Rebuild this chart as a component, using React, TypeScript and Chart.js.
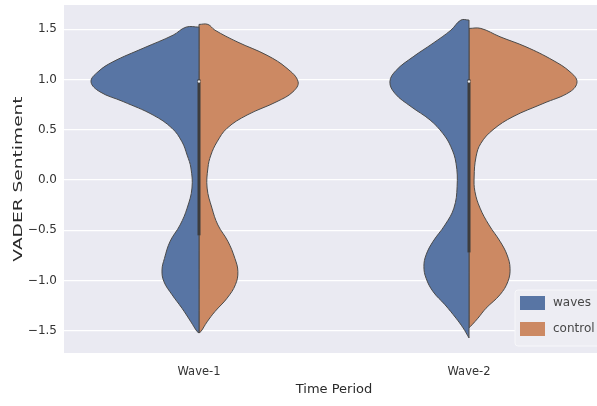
import React, { useEffect, useRef } from "react";
import { Chart, registerables } from "chart.js";

Chart.register(...registerables);

// ---------- data ----------
const categories = ["Wave-1", "Wave-2"];
const hues = ["waves", "control"];
const yTicks = [-1.5, -1.0, -0.5, 0.0, 0.5, 1.0, 1.5];
const yTitle = "VADER Sentiment";
const xTitle = "Time Period";

// Density outlines: sentiment level and half-width (in category units), top to bottom
const w1WavesY = [1.52, 1.44, 1.31, 1.175, 1.076, 0.977, 0.877, 0.78, 0.646, 0.515, 0.38, 0.248, 0.12, -0.08, -0.28, -0.447, -0.61, -0.78, -0.894, -1.01, -1.14, -1.275, -1.41, -1.507, -1.52];
const w1WavesW = [0.048, 0.096, 0.207, 0.319, 0.374, 0.4, 0.367, 0.281, 0.17, 0.1, 0.063, 0.044, 0.03, 0.026, 0.044, 0.07, 0.107, 0.128, 0.137, 0.13, 0.1, 0.063, 0.03, 0.007, 0];

const w1ControlY = [1.547, 1.49, 1.374, 1.24, 1.11, 0.977, 0.877, 0.78, 0.646, 0.515, 0.38, 0.248, 0.12, -0.08, -0.28, -0.447, -0.61, -0.78, -0.91, -1.04, -1.175, -1.308, -1.41, -1.507, -1.52];
const w1ControlW = [0.033, 0.059, 0.141, 0.252, 0.326, 0.367, 0.348, 0.289, 0.178, 0.104, 0.067, 0.044, 0.033, 0.03, 0.048, 0.07, 0.107, 0.133, 0.144, 0.135, 0.104, 0.059, 0.03, 0.007, 0];

const w2WavesY = [1.59, 1.49, 1.36, 1.225, 1.09, 0.977, 0.86, 0.73, 0.596, 0.46, 0.33, 0.166, -0.067, -0.28, -0.447, -0.61, -0.745, -0.86, -0.976, -1.11, -1.24, -1.374, -1.47, -1.57];
const w2WavesW = [0.03, 0.067, 0.133, 0.207, 0.27, 0.293, 0.274, 0.215, 0.144, 0.096, 0.067, 0.048, 0.044, 0.056, 0.089, 0.133, 0.159, 0.167, 0.159, 0.133, 0.089, 0.048, 0.022, 0];

const w2ControlY = [1.507, 1.424, 1.324, 1.19, 1.076, 0.977, 0.877, 0.76, 0.63, 0.5, 0.365, 0.23, 0.03, -0.116, -0.28, -0.447, -0.61, -0.745, -0.877, -1.01, -1.14, -1.275, -1.374, -1.44, -1.47];
const w2ControlW = [0.044, 0.115, 0.211, 0.311, 0.374, 0.4, 0.374, 0.274, 0.163, 0.089, 0.044, 0.026, 0.019, 0.022, 0.041, 0.074, 0.115, 0.141, 0.152, 0.144, 0.115, 0.063, 0.033, 0.011, 0];

// inner box statistics per category
const q1 = [-0.55, -0.72];
const q3 = [1.0, 1.0];
const medians = [0.98, 0.98];

// ---------- styles ----------
const FONT = "'DejaVu Sans', 'Liberation Sans', sans-serif";
const hueColors = ["#5875a4", "#cc8963"];
const outline = "#4a4a4a";
const plotBg = "#eaeaf2";
const textColor = "#333333";

type Pt = { x: number; y: number };

function half(center: number, ys: number[], ws: number[], side: number): Pt[] {
  const pts: Pt[] = [{ x: center, y: ys[0] }];
  ys.forEach((y, k) => pts.push({ x: center + side * ws[k], y }));
  pts.push({ x: center, y: ys[ys.length - 1] });
  pts.push({ x: center, y: ys[0] });
  return pts;
}

const violinHalves = [
  { cat: 0, hue: 0, ys: w1WavesY, ws: w1WavesW },
  { cat: 0, hue: 1, ys: w1ControlY, ws: w1ControlW },
  { cat: 1, hue: 0, ys: w2WavesY, ws: w2WavesW },
  { cat: 1, hue: 1, ys: w2ControlY, ws: w2ControlW },
];

const decor = {
  id: "decor",
  beforeDraw(chart: any) {
    const { ctx, chartArea: a } = chart;
    ctx.save();
    ctx.fillStyle = plotBg;
    ctx.fillRect(a.left, a.top, a.right - a.left, a.bottom - a.top);
    ctx.restore();
  },
  afterDraw(chart: any) {
    const { ctx, chartArea: a } = chart;
    // legend
    ctx.save();
    const lx = a.right - 89;
    const ly = a.bottom - 63;
    const lw = 85;
    const lh = 56;
    ctx.beginPath();
    ctx.roundRect(lx, ly, lw, lh, 3);
    ctx.fillStyle = "#ededf3";
    ctx.fill();
    ctx.strokeStyle = "#f7f7fa";
    ctx.lineWidth = 1;
    ctx.stroke();
    hues.forEach((h, k) => {
      const cy = ly + 13 + k * 26;
      ctx.fillStyle = hueColors[k];
      ctx.fillRect(lx + 5, cy - 7, 25, 14);
      ctx.fillStyle = "#474747";
      ctx.font = `12px ${FONT}`;
      ctx.textAlign = "left";
      ctx.textBaseline = "middle";
      ctx.fillText(h, lx + 38, cy);
    });
    ctx.restore();
    // y title (stretched along its direction like the source)
    ctx.save();
    ctx.translate(19, (a.top + a.bottom) / 2);
    ctx.rotate(-Math.PI / 2);
    ctx.scale(1.55, 1);
    ctx.fillStyle = "#2a2a2a";
    ctx.font = `12px ${FONT}`;
    ctx.textAlign = "center";
    ctx.textBaseline = "middle";
    ctx.fillText(yTitle, 0, 0);
    ctx.restore();
  },
};

export default function App() {
  const ref = useRef<HTMLCanvasElement | null>(null);

  useEffect(() => {
    if (!ref.current) return;
    const datasets: any[] = [];

    // inner box (drawn on top: lowest indices)
    categories.forEach((_, i) => {
      datasets.push({
        type: "scatter",
        data: [{ x: i, y: medians[i] }],
        pointRadius: 1.2,
        pointBackgroundColor: "#e8e8e8",
        pointBorderWidth: 0,
        showLine: false,
      });
      datasets.push({
        type: "line",
        data: [
          { x: i, y: q1[i] },
          { x: i, y: q3[i] },
        ],
        borderColor: "#3c3c3c",
        borderWidth: 3,
        pointRadius: 0,
        fill: false,
        tension: 0,
      });
    });

    violinHalves.forEach((v) => {
      datasets.push({
        type: "line",
        label: hues[v.hue],
        data: half(v.cat, v.ys, v.ws, v.hue === 0 ? -1 : 1),
        borderColor: outline,
        borderWidth: 1,
        backgroundColor: hueColors[v.hue],
        pointRadius: 0,
        fill: "shape",
        tension: 0.4,
      });
    });

    const chart = new Chart(ref.current, {
      type: "line",
      data: { datasets },
      options: {
        animation: false,
        responsive: true,
        maintainAspectRatio: false,
        layout: { padding: { top: 5, right: 8, left: 0, bottom: 0 } },
        plugins: { legend: { display: false }, tooltip: { enabled: false } },
        scales: {
          x: {
            type: "linear",
            min: -0.5,
            max: 1.5,
            grid: { display: false },
            border: { display: false },
            afterBuildTicks: (s: any) => {
              s.ticks = categories.map((_, i) => ({ value: i }));
            },
            ticks: {
              callback: (v: any) => categories[v as number] ?? "",
              font: { family: FONT, size: 11.5 },
              color: textColor,
              padding: 4,
              maxRotation: 0,
              autoSkip: false,
            },
            title: {
              display: true,
              text: xTitle,
              font: { family: FONT, size: 13 },
              color: "#2a2a2a",
              padding: { top: 0, bottom: 9 },
            },
            afterFit: (s: any) => {
              s.height = 53;
              s.paddingLeft = 0;
              s.paddingRight = 0;
            },
          },
          y: {
            type: "linear",
            min: -1.72,
            max: 1.74,
            grid: { color: "#ffffff", lineWidth: 1.2, drawTicks: false },
            border: { display: false },
            afterBuildTicks: (s: any) => {
              s.ticks = yTicks.map((v) => ({ value: v }));
            },
            ticks: {
              callback: (v: any) => Number(v).toFixed(1).replace("-", "\u2212"),
              font: { family: FONT, size: 12 },
              color: textColor,
              padding: 7,
            },
            afterFit: (s: any) => {
              s.width = 64;
              s.paddingTop = 0;
              s.paddingBottom = 0;
            },
          },
        },
      },
      plugins: [decor],
    });
    return () => chart.destroy();
  }, []);

  return (
    <div style={{ position: "fixed", left: 0, top: 0, width: 597, height: 406, overflow: "hidden", background: "#ffffff" }}>
      <div style={{ position: "relative", width: 612, height: 406 }}>
        <canvas ref={ref} />
      </div>
    </div>
  );
}
